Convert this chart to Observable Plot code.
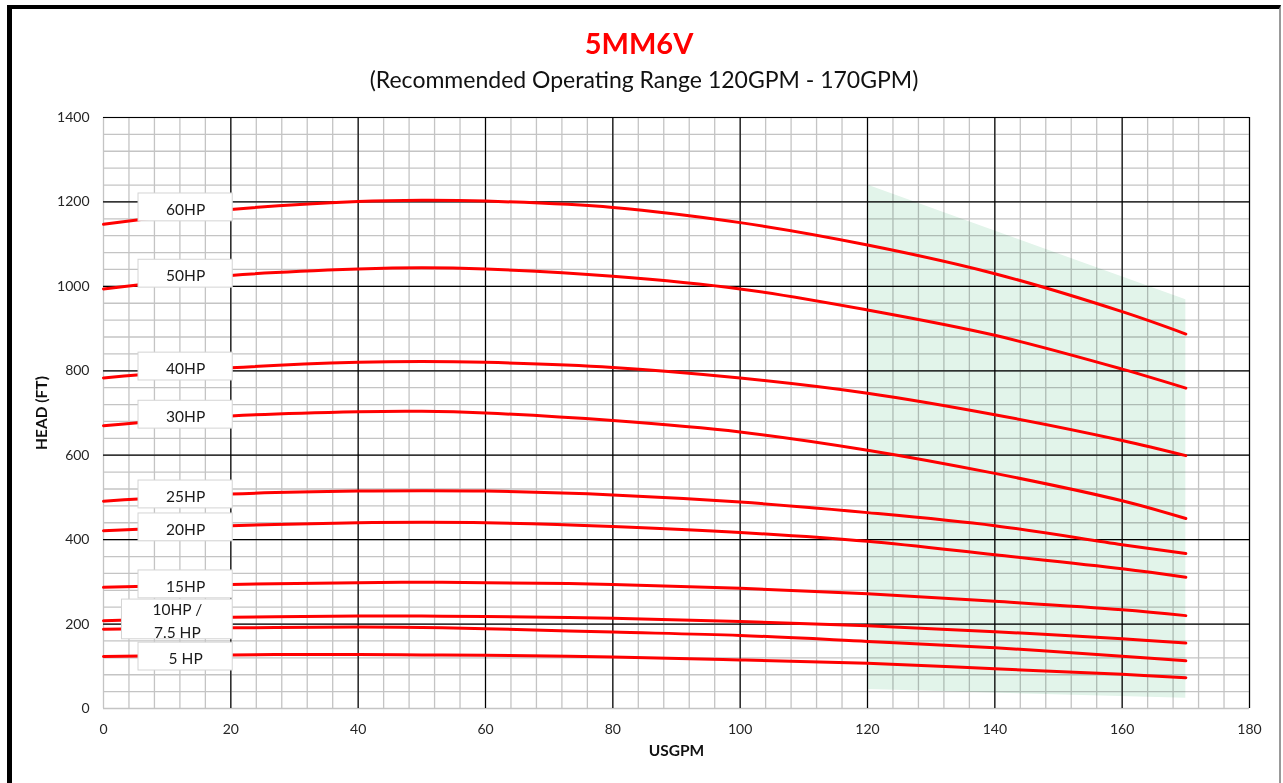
<!DOCTYPE html>
<html>
<head>
<meta charset="utf-8">
<script src="https://cdn.jsdelivr.net/npm/d3@7"></script>
<script src="https://cdn.jsdelivr.net/npm/@observablehq/plot@0.6"></script>
<style>
  html, body { margin: 0; padding: 0; background: #fff; overflow: hidden; }
  #page { position: relative; width: 1283px; height: 783px; font-family: Lato, "Open Sans", sans-serif; }
  #header { position: relative; height: 100px; width: 1283px; }
  #title { position: absolute; left: 0; width: 1278px; top: 25px; height: 36px; line-height: 36px; text-align: center; color: #ff0000; font-weight: bold; font-size: 29px; }
  #subtitle { position: absolute; left: 0; width: 1288px; top: 65px; height: 28px; line-height: 28px; text-align: center; color: #111; font-size: 23px; }
  #frame { position: absolute; left: 7px; top: 5px; width: 1274px; height: 900px; box-sizing: border-box; border-top: 4px solid #000; border-left: 5px solid #000; border-right: 2px solid #999; pointer-events: none; }
  #chart svg { display: block; }
</style>
</head>
<body>
<div id="page">
  <div id="header">
    <div id="title">5MM6V</div>
    <div id="subtitle">(Recommended Operating Range 120GPM - 170GPM)</div>
  </div>
  <div id="chart"></div>
  <div id="frame"></div>
</div>
<script>
// ---- data ----
const flows = [0, 20, 40, 50, 60, 80, 100, 120, 140, 160, 170];
const hp60 = [1147, 1182, 1201, 1204, 1202, 1187, 1151, 1098, 1030, 940, 887];
const hp50 = [994, 1026, 1041, 1044, 1041, 1024, 994, 944, 884, 804, 759];
const hp40 = [783, 807, 820, 822, 820, 808, 783, 747, 696, 635, 599];
const hp30 = [670, 693, 703, 704, 700, 682, 655, 612, 557, 492, 450];
const hp25 = [491, 508, 515, 516, 515, 506, 489, 464, 433, 388, 367];
const hp20 = [421, 433, 440, 441, 440, 431, 417, 396, 364, 331, 311];
const hp15 = [287, 294, 298, 299, 298, 294, 285, 272, 254, 234, 220];
const hp10 = [208, 216, 219, 219, 218, 214, 206, 196, 182, 165, 155];
const hp75 = [188, 191, 193, 192, 189, 181, 173, 159, 144, 124, 113];
const hp5 = [123, 127, 128, 127, 126, 122, 115, 107, 94, 81, 73];

const seriesNames = ["60HP", "50HP", "40HP", "30HP", "25HP", "20HP", "15HP", "10HP", "7.5HP", "5HP"];
const seriesValues = [hp60, hp50, hp40, hp30, hp25, hp20, hp15, hp10, hp75, hp5];

const labelTexts = ["60HP", "50HP", "40HP", "30HP", "25HP", "20HP", "15HP", "10HP /\n7.5 HP", "5 HP"];
const labelHeads = [1187, 1030, 810, 696, 507, 429, 294, 211, 123];
const labelLeft = [5.5, 5.5, 5.5, 5.5, 5.5, 5.5, 5.5, 2.9, 5.5];
const labelRight = [20.3, 20.3, 20.3, 20.3, 20.3, 20.3, 20.3, 20.3, 20.3];
const labelHalfHeight = [33, 33, 33, 33, 33, 33, 33, 47, 33];

const rangeFlow = [120, 170];
const rangeTop = [1240, 968];
const rangeBottom = [45, 24];

const xTicks = [0, 20, 40, 60, 80, 100, 120, 140, 160, 180];
const yTicks = [0, 200, 400, 600, 800, 1000, 1200, 1400];

// ---- build tables ----
const curves = [];
seriesNames.forEach((name, i) => {
  flows.forEach((f, j) => curves.push({ series: name, flow: f, head: seriesValues[i][j] }));
});
const labels = labelTexts.map((t, i) => ({
  text: t, head: labelHeads[i], x1: labelLeft[i], x2: labelRight[i],
  y1: labelHeads[i] - labelHalfHeight[i], y2: labelHeads[i] + labelHalfHeight[i],
  xc: (labelLeft[i] + labelRight[i]) / 2
}));
const range = rangeFlow.map((f, i) => ({ flow: f, top: rangeTop[i], bottom: rangeBottom[i] }));

const minorX = d3.range(0, 181, 4);
const minorY = d3.range(0, 1401, 40);
const majorX = xTicks.filter(d => d > 0);
const majorY = yTicks.filter(d => d > 0);

const chart = Plot.plot({
  width: 1283,
  height: 683,
  marginLeft: 103,
  marginRight: 34,
  marginTop: 17,
  marginBottom: 75,
  style: { fontFamily: "Lato, 'Open Sans', sans-serif", fontSize: "14px", color: "#262626", background: "transparent" },
  x: { domain: [0, 180] },
  y: { domain: [0, 1400] },
  marks: [
    Plot.ruleX(minorX, { stroke: "#c4c4c4", strokeWidth: 1.3 }),
    Plot.ruleY(minorY, { stroke: "#c4c4c4", strokeWidth: 1.3 }),
    Plot.ruleX(majorX, { stroke: "#000", strokeWidth: 1.2 }),
    Plot.ruleY(majorY, { stroke: "#000", strokeWidth: 1.2 }),
    Plot.areaY(range, { x: "flow", y1: "bottom", y2: "top", fill: "#e2f4ea", mixBlendMode: "multiply" }),
    Plot.line(curves, { x: "flow", y: "head", z: "series", stroke: "#ff0000", strokeWidth: 3, curve: "catmull-rom" }),
    Plot.rect(labels, { x1: "x1", x2: "x2", y1: "y1", y2: "y2", fill: "#fff", stroke: "#d4d4d4", strokeWidth: 1 }),
    Plot.text(labels, { x: "xc", y: "head", text: "text", fontSize: 15.5, fill: "#1a1a1a", lineHeight: 1.5 }),
    Plot.axisX(xTicks, { tickSize: 0, tickPadding: 16, label: null, fontSize: 14, tickFormat: d => String(d) }),
    Plot.axisY(yTicks, { tickSize: 0, tickPadding: 14, label: null, fontSize: 14, tickFormat: d => String(d) }),
    Plot.text(["USGPM"], { frameAnchor: "bottom", dy: 47, fontWeight: "bold", fontSize: 15.5, fill: "#111" }),
    Plot.text(["HEAD (FT)"], { frameAnchor: "left", dx: -61, rotate: -90, textAnchor: "middle", fontWeight: "bold", fontSize: 15.5, fill: "#111" })
  ]
});
document.getElementById("chart").appendChild(chart);
</script>
</body>
</html>
